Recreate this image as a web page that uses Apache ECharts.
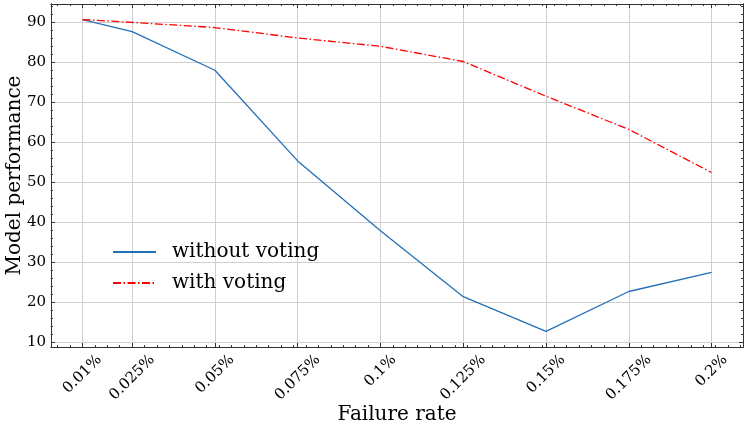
<!DOCTYPE html>
<html>
<head>
<meta charset="utf-8">
<script src="https://cdn.jsdelivr.net/npm/echarts@6/dist/echarts.min.js"></script>
<style>html,body{margin:0;padding:0;background:#fff}#c{width:747px;height:432px}</style>
</head>
<body>
<div id="c"></div>
<script>
// ---- data ----
const failureRates = [0.01, 0.025, 0.05, 0.075, 0.1, 0.125, 0.15, 0.175, 0.2];
const tickLabels = ['0.01%', '0.025%', '0.05%', '0.075%', '0.1%', '0.125%', '0.15%', '0.175%', '0.2%'];
const withoutVoting = [90.7, 87.7, 78.0, 55.3, 37.8, 21.3, 12.6, 22.6, 27.4];
const withVoting = [90.7, 90.0, 88.7, 86.1, 84.0, 80.2, 71.5, 63.2, 52.4];
const yTicks = [10, 20, 30, 40, 50, 60, 70, 80, 90];

const FONT = '"DejaVu Serif", "Liberation Serif", serif';
const X_MIN = 0.0005, X_MAX = 0.2095, Y_MIN = 8.7, Y_MAX = 94.6;

// minor ticks (matplotlib AutoMinorLocator style)
const xMinor = [];
for (let k = -2; k < 60; k++) { const v = 0.01 + k * 0.00375; if (v > X_MIN && v < X_MAX) xMinor.push(+v.toFixed(6)); }
const yMinor = [];
for (let v = 10; v < Y_MAX; v += 2) yMinor.push(v);

// per-label padding so rotated labels are centred on the tick with tops aligned
const LF = 15;
const cv = document.createElement('canvas').getContext('2d');
cv.font = LF + 'px ' + FONT;
const widths = tickLabels.map(t => cv.measureText(t).width);
const wMin = Math.min(...widths);
const rich = {};
tickLabels.forEach((t, i) => {
  const d = 0.3536 * (widths[i] - wMin);
  const p = 1.4142 * d;
  rich['t' + i] = { fontFamily: FONT, fontSize: LF, color: '#000', padding: [p, p, 0, 0] };
});
const xMargin = 5 + 0.3536 * (wMin + LF);

const chart = echarts.init(document.getElementById('c'), null, { renderer: 'canvas' });
const lineAxis = { show: true, lineStyle: { color: '#333', width: 1 } };
function baseX(extra) {
  return Object.assign({ type: 'value', min: X_MIN, max: X_MAX, gridIndex: 0,
    axisLine: lineAxis, axisLabel: { show: false }, splitLine: { show: false }, axisTick: { show: false } }, extra);
}
function baseY(extra) {
  return Object.assign({ type: 'value', min: Y_MIN, max: Y_MAX, gridIndex: 0,
    axisLine: lineAxis, axisLabel: { show: false }, splitLine: { show: false }, axisTick: { show: false } }, extra);
}
const option = {
  backgroundColor: '#fff',
  animation: false,
  grid: { left: 51, right: 4, top: 4, bottom: 85, containLabel: false, outerBoundsMode: 'none' },
  legend: {
    orient: 'vertical', left: 112, top: 242, padding: 0, itemWidth: 43, itemHeight: 20, itemGap: 11,
    itemStyle: { opacity: 0, color: 'rgba(0,0,0,0)', borderWidth: 0 },
    textStyle: { fontFamily: FONT, fontSize: 20, color: '#000', padding: [0, 0, 0, 11] },
    data: ['without voting', 'with voting']
  },
  xAxis: [
    baseX({ position: 'bottom',
      name: 'Failure rate', nameLocation: 'middle', nameGap: 58, nameMoveOverlap: false,
      nameTextStyle: { fontFamily: FONT, fontSize: 20, color: '#000' },
      axisTick: { show: true, inside: true, length: 4, customValues: failureRates, lineStyle: { color: '#333' } },
      splitLine: { show: true, customValues: failureRates, lineStyle: { color: '#cfcfcf', width: 1 } },
      axisLabel: { show: true, rotate: 45, align: 'center', verticalAlign: 'middle', margin: xMargin,
        customValues: failureRates, rich: rich,
        formatter: function (v) {
          let bi = 0, bd = 1e9;
          failureRates.forEach((f, i) => { const dd = Math.abs(f - v); if (dd < bd) { bd = dd; bi = i; } });
          return '{t' + bi + '|' + tickLabels[bi] + '}';
        } } }),
    baseX({ position: 'bottom', axisTick: { show: true, inside: true, length: 2, customValues: xMinor, lineStyle: { color: '#333' } } }),
    baseX({ position: 'top', axisTick: { show: true, inside: true, length: 4, customValues: failureRates, lineStyle: { color: '#333' } } }),
    baseX({ position: 'top', axisTick: { show: true, inside: true, length: 2, customValues: xMinor, lineStyle: { color: '#333' } } })
  ],
  yAxis: [
    baseY({ position: 'left',
      name: 'Model performance', nameLocation: 'middle', nameGap: 26, nameRotate: 90, nameMoveOverlap: false,
      nameTextStyle: { fontFamily: FONT, fontSize: 20, color: '#000' },
      axisTick: { show: true, inside: true, length: 4, customValues: yTicks, lineStyle: { color: '#333' } },
      splitLine: { show: true, customValues: yTicks, lineStyle: { color: '#cfcfcf', width: 1 } },
      axisLabel: { show: true, customValues: yTicks, margin: 5, fontFamily: FONT, fontSize: LF, color: '#000' } }),
    baseY({ position: 'left', axisTick: { show: true, inside: true, length: 2, customValues: yMinor, lineStyle: { color: '#333' } } }),
    baseY({ position: 'right', axisTick: { show: true, inside: true, length: 4, customValues: yTicks, lineStyle: { color: '#333' } } }),
    baseY({ position: 'right', axisTick: { show: true, inside: true, length: 2, customValues: yMinor, lineStyle: { color: '#333' } } })
  ],
  series: [
    { name: 'without voting', type: 'line', xAxisIndex: 0, yAxisIndex: 0, symbol: 'none',
      lineStyle: { color: '#2470b8', width: 1.3 }, itemStyle: { color: '#2470b8' },
      data: failureRates.map((x, i) => [x, withoutVoting[i]]) },
    { name: 'with voting', type: 'line', xAxisIndex: 0, yAxisIndex: 0, symbol: 'none',
      lineStyle: { color: '#ff0000', width: 1.3, type: [8, 2.5, 1.5, 2.5] }, itemStyle: { color: '#ff0000' },
      data: failureRates.map((x, i) => [x, withVoting[i]]) }
  ]
};
chart.setOption(option);
</script>
</body>
</html>
